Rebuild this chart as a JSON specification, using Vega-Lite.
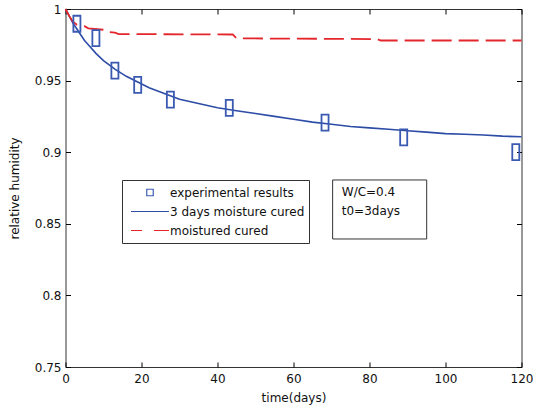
{
  "$schema": "https://vega.github.io/schema/vega-lite/v6.json",
  "width": 456,
  "height": 358,
  "autosize": "none",
  "padding": {"left": 65.5, "top": 9, "right": 11.5, "bottom": 43},
  "background": "white",
  "config": {
    "view": {"stroke": "#333", "strokeWidth": 1},
    "font": "DejaVu Sans",
    "axis": {
      "grid": false,
      "domain": false,
      "tickSize": -5,
      "tickColor": "#000",
      "tickWidth": 1,
      "labelFlush": false,
      "labelOverlap": false,
      "labelFont": "DejaVu Sans",
      "labelFontSize": 12,
      "labelColor": "#111",
      "titleFont": "DejaVu Sans",
      "titleFontSize": 12,
      "titleFontWeight": "normal",
      "titleColor": "#111"
    }
  },
  "datasets": {
    "obs": [
      {"day": 3.0, "rh": 0.9897},
      {"day": 8.0, "rh": 0.9796},
      {"day": 13.0, "rh": 0.957},
      {"day": 19.0, "rh": 0.947},
      {"day": 27.6, "rh": 0.9367},
      {"day": 43.1, "rh": 0.931},
      {"day": 68.3, "rh": 0.9207},
      {"day": 89.0, "rh": 0.9104},
      {"day": 118.5, "rh": 0.9}
    ],
    "cured3": [
      {"day": 0, "rh": 1.0},
      {"day": 1, "rh": 0.995},
      {"day": 2, "rh": 0.99},
      {"day": 3, "rh": 0.986},
      {"day": 4, "rh": 0.982},
      {"day": 5, "rh": 0.978},
      {"day": 6, "rh": 0.975},
      {"day": 8, "rh": 0.969},
      {"day": 10, "rh": 0.964},
      {"day": 13, "rh": 0.958},
      {"day": 16, "rh": 0.953},
      {"day": 19, "rh": 0.949},
      {"day": 22, "rh": 0.945},
      {"day": 26, "rh": 0.941},
      {"day": 30, "rh": 0.937},
      {"day": 35, "rh": 0.934},
      {"day": 40, "rh": 0.931},
      {"day": 45, "rh": 0.929},
      {"day": 50, "rh": 0.927},
      {"day": 55, "rh": 0.925},
      {"day": 60, "rh": 0.923},
      {"day": 65, "rh": 0.921},
      {"day": 70, "rh": 0.9195},
      {"day": 75, "rh": 0.918},
      {"day": 80, "rh": 0.917},
      {"day": 85, "rh": 0.916},
      {"day": 90, "rh": 0.915},
      {"day": 95, "rh": 0.914},
      {"day": 100, "rh": 0.913},
      {"day": 105, "rh": 0.9125},
      {"day": 110, "rh": 0.912},
      {"day": 115, "rh": 0.9112},
      {"day": 120, "rh": 0.9108}
    ],
    "moist": [
      {"day": 0, "rh": 1.0},
      {"day": 1, "rh": 0.995},
      {"day": 2, "rh": 0.991},
      {"day": 3, "rh": 0.989},
      {"day": 5, "rh": 0.988},
      {"day": 6, "rh": 0.9865},
      {"day": 10, "rh": 0.9855},
      {"day": 11, "rh": 0.984},
      {"day": 13, "rh": 0.9835},
      {"day": 14, "rh": 0.9825},
      {"day": 44, "rh": 0.9822},
      {"day": 45, "rh": 0.9795},
      {"day": 82, "rh": 0.979},
      {"day": 83, "rh": 0.978},
      {"day": 120, "rh": 0.978}
    ]
  },
  "layer": [
    {
      "data": {"name": "cured3"},
      "mark": {"type": "line", "strokeWidth": 1.6, "color": "#2c4ca6"},
      "encoding": {
        "x": {
          "field": "day", "type": "quantitative",
          "scale": {"domain": [0, 120], "nice": false, "zero": false},
          "axis": {"orient": "bottom", "values": [0, 20, 40, 60, 80, 100, 120], "title": "time(days)", "labelPadding": 11, "titlePadding": 8}
        },
        "y": {
          "field": "rh", "type": "quantitative",
          "scale": {"domain": [0.75, 1], "nice": false, "zero": false},
          "axis": {"orient": "left", "values": [0.75, 0.8, 0.85, 0.9, 0.95, 1], "format": "~g", "title": "relative humidity", "labelPadding": 9.5, "titlePadding": 13}
        }
      }
    },
    {
      "data": {"name": "moist"},
      "mark": {"type": "line", "strokeWidth": 1.8, "strokeDash": [20, 7], "color": "#e4262c"},
      "encoding": {
        "x": {
          "field": "day", "type": "quantitative",
          "axis": {"orient": "top", "values": [0, 20, 40, 60, 80, 100, 120], "labels": false, "title": null}
        },
        "y": {
          "field": "rh", "type": "quantitative",
          "axis": {"orient": "right", "values": [0.75, 0.8, 0.85, 0.9, 0.95, 1], "labels": false, "title": null}
        }
      }
    },
    {
      "data": {"name": "obs"},
      "mark": {
        "type": "point",
        "shape": "M-0.44,-1L0.44,-1L0.44,1L-0.44,1Z",
        "filled": false,
        "size": 256,
        "strokeWidth": 1.8,
        "opacity": 1
      },
      "encoding": {
        "x": {"field": "day", "type": "quantitative", "axis": null},
        "y": {"field": "rh", "type": "quantitative", "axis": null},
        "color": {
          "datum": "experimental results",
          "type": "nominal",
          "scale": {
            "domain": ["experimental results", "3 days moisture cured", "moistured cured"],
            "range": ["#3a5ab2", "#2c4ca6", "#e4262c"]
          },
          "legend": {
            "orient": "none",
            "legendX": 56.5,
            "legendY": 171,
            "title": null,
            "direction": "vertical",
            "padding": 4,
            "strokeColor": "#333",
            "fillColor": "white",
            "symbolType": {"expr": "datum.value === 'experimental results' ? 'M-0.17,-0.17L0.17,-0.17L0.17,0.17L-0.17,0.17Z' : 'stroke'"},
            "symbolDash": {"expr": "datum.value === 'moistured cured' ? [11,12,16,1] : [1,0]"},
            "symbolFillColor": "transparent",
            "symbolSize": 1444,
            "symbolStrokeWidth": 1.2,
            "symbolOffset": 4,
            "labelOffset": 0,
            "clipHeight": 17,
            "rowPadding": 2,
            "labelFont": "DejaVu Sans",
            "labelFontSize": 12,
            "labelColor": "#111",
            "labelLimit": 300
          }
        }
      }
    },
    {
      "data": {"values": [{}]},
      "mark": {"type": "rect", "fill": "white", "stroke": "#333", "strokeWidth": 1},
      "encoding": {
        "x": {"datum": 70.3, "type": "quantitative", "axis": null},
        "x2": {"datum": 95.05},
        "y": {"datum": 0.8806, "type": "quantitative", "axis": null},
        "y2": {"datum": 0.8394}
      }
    },
    {
      "data": {"values": [{}]},
      "mark": {"type": "text", "align": "left", "baseline": "top", "font": "DejaVu Sans", "fontSize": 12, "lineHeight": 19, "color": "#111"},
      "encoding": {
        "x": {"datum": 72.7, "type": "quantitative", "axis": null},
        "y": {"datum": 0.8756, "type": "quantitative", "axis": null},
        "text": {"value": ["W/C=0.4", "t0=3days"]}
      }
    }
  ],
  "resolve": {"axis": {"x": "independent", "y": "independent"}}
}
